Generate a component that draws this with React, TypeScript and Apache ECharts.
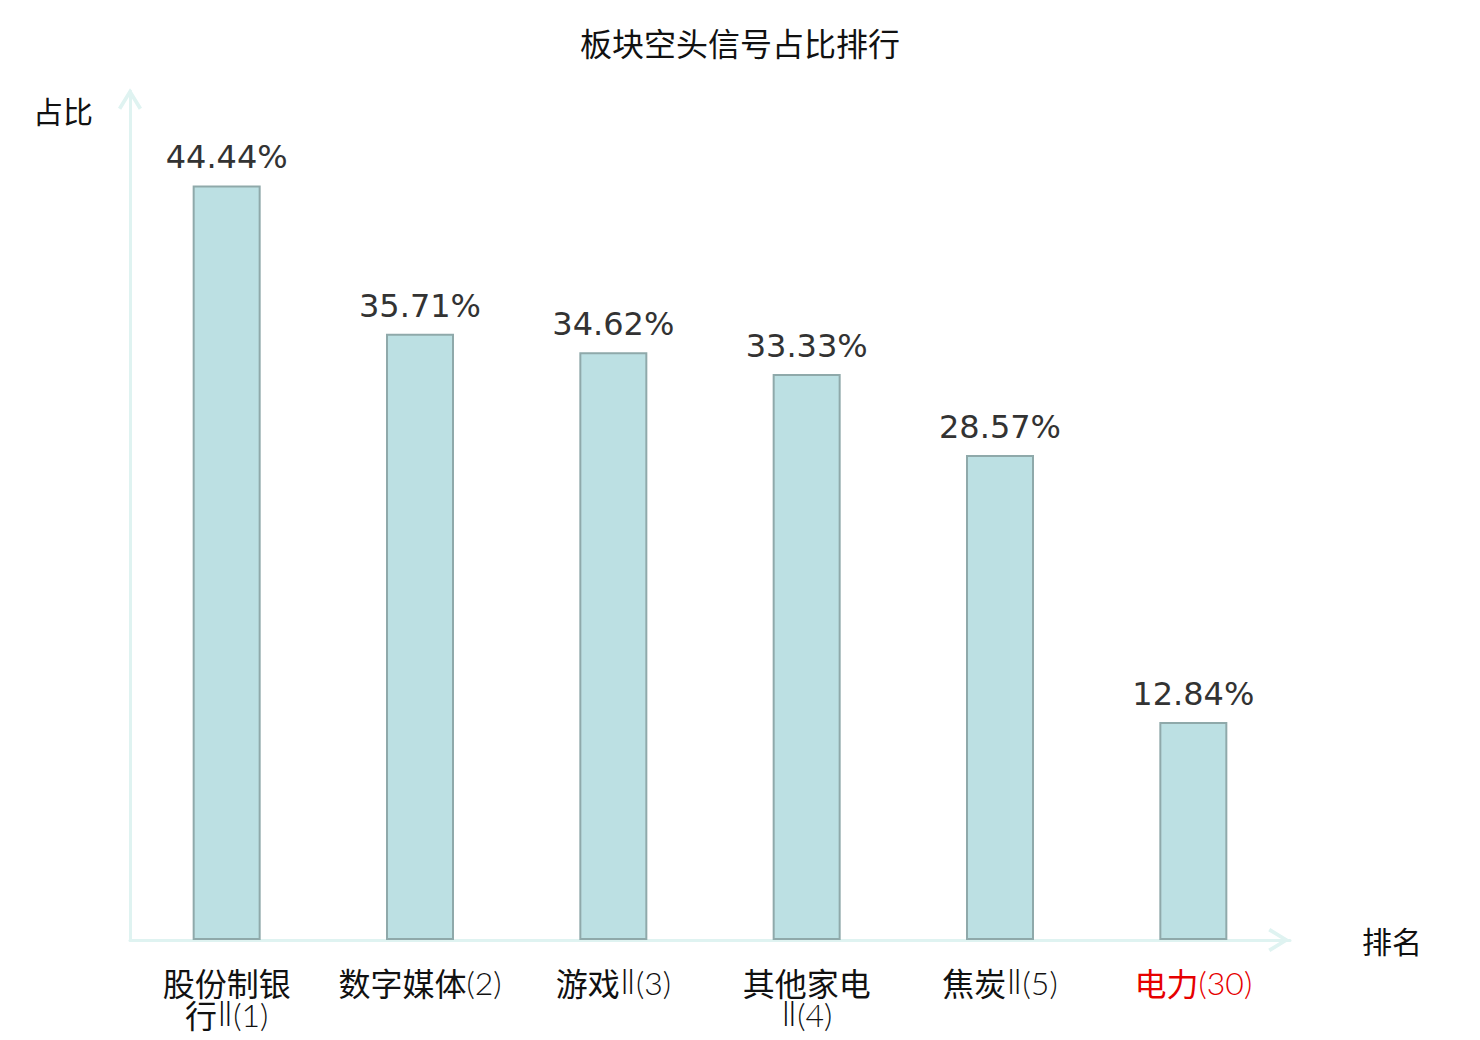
import React, { useEffect, useRef } from "react";
import * as echarts from "echarts";

const title = "板块空头信号占比排行";
const categories = ["股份制银行Ⅱ(1)", "数字媒体(2)", "游戏Ⅱ(3)", "其他家电Ⅱ(4)", "焦炭Ⅱ(5)", "电力(30)"];
const values = [44.44, 35.71, 34.62, 33.33, 28.57, 12.84];
const highlightCategory = "电力(30)";

function wrapLabel(s: string) {
  const i = s.indexOf("(");
  const name = i >= 0 ? s.slice(0, i) : s;
  const rest = i >= 0 ? s.slice(i) : "";
  const text = name.length > 4 ? name.slice(0, 4) + "\n" + name.slice(4) + rest : s;
  return text
    .split("\n")
    .map((line) =>
      (line.match(/[\u4e00-\u9fff]+|[\u2160-\u217f]+|[^\u4e00-\u9fff\u2160-\u217f]+/g) || [])
        .map((run) =>
          /[\u4e00-\u9fff]/.test(run) ? `{a|${run}}` : /[\u2160-\u217f]/.test(run) ? `{c|${run}}` : `{b|${run}}`
        )
        .join("")
    )
    .join("\n");
}

export default function App() {
  const ref = useRef<HTMLDivElement>(null);
  useEffect(() => {
    const chart = echarts.init(ref.current!, null, { renderer: "svg" });
    const arrow = "path://M12,0 L24,19.5 L20.8,21.5 L12,7 L3.2,21.5 L0,19.5 Z";
    chart.setOption({
      animation: false,
      backgroundColor: "#fff",
      title: {
        text: title,
        left: "center",
        top: 21,
        textStyle: { fontSize: 32, fontWeight: "normal", color: "#111", fontFamily: "Noto Sans CJK SC" },
      },
      grid: { left: 130, right: 190, top: 91, bottom: 100 },
      xAxis: {
        type: "category",
        data: categories.map((c) =>
          c === highlightCategory ? { value: c, textStyle: { color: "#e60000" } } : c
        ),
        name: "排名",
        nameLocation: "end",
        nameGap: 72,
        nameTextStyle: { fontSize: 30, color: "#111", fontFamily: "Noto Sans CJK SC" },
        axisLine: {
          lineStyle: { color: "#dff3f1", width: 3 },
          symbol: ["none", arrow],
          symbolSize: [24, 22],
          symbolOffset: [0, -11],
        },
        axisTick: { show: false },
        axisLabel: {
          interval: 0,
          fontSize: 32,
          color: "#111",
          margin: 26,
          lineHeight: 32,
          fontFamily: "Noto Sans CJK SC",
          formatter: (v: string) => wrapLabel(v),
          rich: {
            a: { fontSize: 32, lineHeight: 32, fontFamily: "Noto Sans CJK SC" },
            b: { fontSize: 32, lineHeight: 32, fontFamily: "Lato", fontWeight: 300 },
            c: { fontSize: 33, lineHeight: 32, fontFamily: "DejaVu Sans", fontWeight: 200 },
          },
        },
      },
      yAxis: {
        type: "value",
        min: 0,
        max: 50,
        name: "占比",
        nameLocation: "end",
        nameGap: -34,
        nameTextStyle: {
          fontSize: 30,
          color: "#111",
          align: "right",
          padding: [0, 37, 0, 0],
          fontFamily: "Noto Sans CJK SC",
        },
        splitLine: { show: false },
        axisLabel: { show: false },
        axisTick: { show: false },
        axisLine: {
          show: true,
          lineStyle: { color: "#dff3f1", width: 3 },
          symbol: ["none", arrow],
          symbolSize: [24, 22],
          symbolOffset: [0, -8],
        },
      },
      series: [
        {
          type: "bar",
          data: values,
          barWidth: 68,
          itemStyle: { color: "#bce0e3", borderColor: "#8fa9aa", borderWidth: 2 },
          label: {
            show: true,
            position: "top",
            distance: 12,
            fontSize: 32,
            color: "#333",
            fontFamily: "DejaVu Sans",
            formatter: (p: any) => `${p.value.toFixed(2)}%`,
          },
        },
      ],
    });
    return () => chart.dispose();
  }, []);
  return <div ref={ref} style={{ position: "absolute", left: 0, top: 0, width: 1480, height: 1040 }} />;
}
